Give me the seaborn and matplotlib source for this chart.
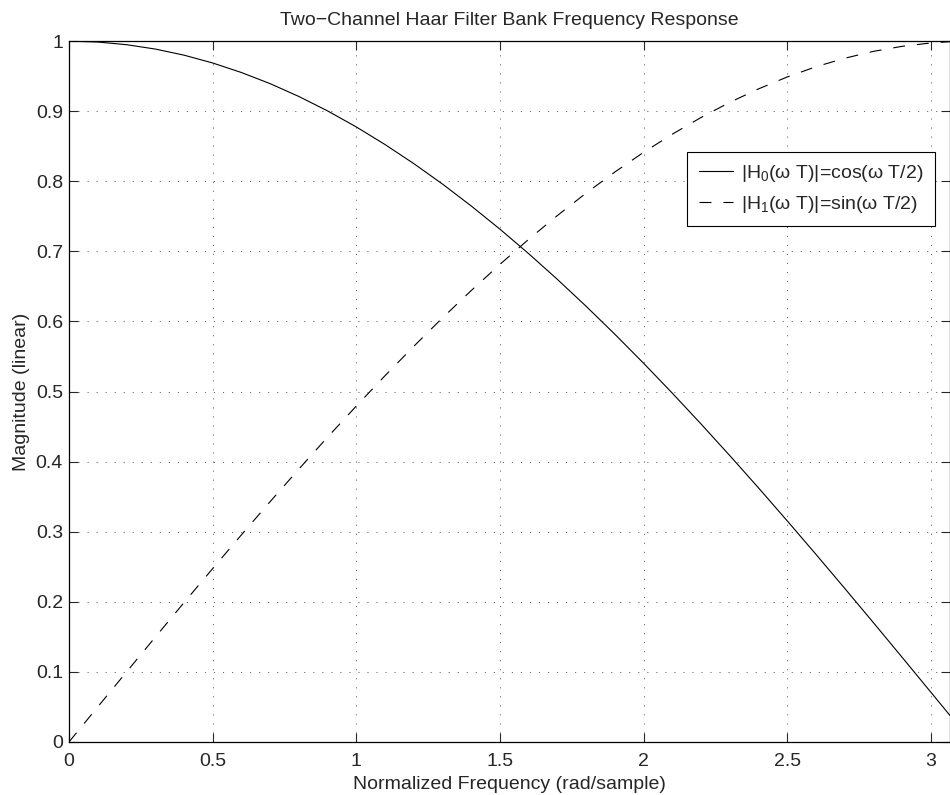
import matplotlib
matplotlib.use('Agg')
import matplotlib.pyplot as plt
import seaborn as sns
import pandas as pd

# normalized frequency (rad/sample) and magnitudes
freq = [0.0, 0.1, 0.2, 0.3, 0.4, 0.5, 0.6, 0.7, 0.8, 0.9, 1.0, 1.1, 1.2, 1.3,
        1.4, 1.5, 1.6, 1.7, 1.8, 1.9, 2.0, 2.1, 2.2, 2.3, 2.4, 2.5, 2.6, 2.7,
        2.8, 2.9, 3.0, 3.066]
h0 = [1.0, 0.9988, 0.9950, 0.9888, 0.9801, 0.9689, 0.9553, 0.9394, 0.9211,
      0.9005, 0.8776, 0.8525, 0.8253, 0.7961, 0.7648, 0.7317, 0.6967, 0.6600,
      0.6216, 0.5817, 0.5403, 0.4976, 0.4536, 0.4085, 0.3624, 0.3153, 0.2675,
      0.2190, 0.1700, 0.1205, 0.0707, 0.0378]
h1 = [0.0, 0.0500, 0.0998, 0.1494, 0.1987, 0.2474, 0.2955, 0.3429, 0.3894,
      0.4350, 0.4794, 0.5227, 0.5646, 0.6052, 0.6442, 0.6816, 0.7174, 0.7513,
      0.7833, 0.8134, 0.8415, 0.8674, 0.8912, 0.9128, 0.9320, 0.9490, 0.9636,
      0.9757, 0.9855, 0.9927, 0.9975, 0.9993]

labels = [r'|H$_0$(ω T)|=cos(ω T/2)', r'|H$_1$(ω T)|=sin(ω T/2)']
xticks = [0, 0.5, 1, 1.5, 2, 2.5, 3]
yticks = [0, 0.1, 0.2, 0.3, 0.4, 0.5, 0.6, 0.7, 0.8, 0.9, 1]

sns.set_style('ticks')
plt.rcParams['font.family'] = ['Liberation Sans', 'DejaVu Sans']
plt.rcParams['mathtext.fontset'] = 'custom'
plt.rcParams['mathtext.rm'] = 'Liberation Sans'
plt.rcParams['mathtext.it'] = 'Liberation Sans'
plt.rcParams['lines.scale_dashes'] = False

fs = 14

fig = plt.figure(figsize=(9.5, 7.95), dpi=100)
ax = fig.add_axes([0.0726, 0.0667, 0.9274, 0.8815])

df = pd.DataFrame({'freq': freq, 'h0': h0, 'h1': h1})
sns.lineplot(data=df, x='freq', y='h0', color='black', linewidth=0.8,
             label=labels[0], ax=ax)
sns.lineplot(data=df, x='freq', y='h1', color='black', linewidth=0.8,
             label=labels[1], ax=ax)
ax.lines[1].set_dashes((8.6, 8.6))

ax.set_xlim(0, 3.066)
ax.set_ylim(0, 1)
ax.set_xticks(xticks)
ax.set_xticklabels(['0', '0.5', '1', '1.5', '2', '2.5', '3'])
ax.set_yticks(yticks)
ax.set_yticklabels(['0', '0.1', '0.2', '0.3', '0.4', '0.5', '0.6', '0.7',
                    '0.8', '0.9', '1'])
ax.grid(True, color='0.3', linewidth=0.6, linestyle=(0, (0.8, 5.7)))
ax.tick_params(direction='in', length=6.5, width=0.8, top=True, right=True,
               labelsize=fs)
ax.tick_params(axis='x', pad=8)
ax.tick_params(axis='y', pad=4.3)
for s in ax.spines.values():
    s.set_linewidth(0.9)
    s.set_color('black')

ax.set_title('Two\u2212Channel Haar Filter Bank Frequency Response',
             fontsize=fs, pad=12)
ax.set_xlabel('Normalized Frequency (rad/sample)', fontsize=fs, labelpad=4.5)
ax.set_ylabel('Magnitude (linear)', fontsize=fs, labelpad=4)

leg = ax.legend(loc='upper right', bbox_to_anchor=(0.983, 0.842),
                borderaxespad=0, fontsize=fs, handlelength=1.75,
                handletextpad=0.45, fancybox=False, framealpha=1,
                edgecolor='black', borderpad=0.58, labelspacing=0.5)
leg.get_frame().set_linewidth(0.8)

fig.savefig('out.png', dpi=100)
